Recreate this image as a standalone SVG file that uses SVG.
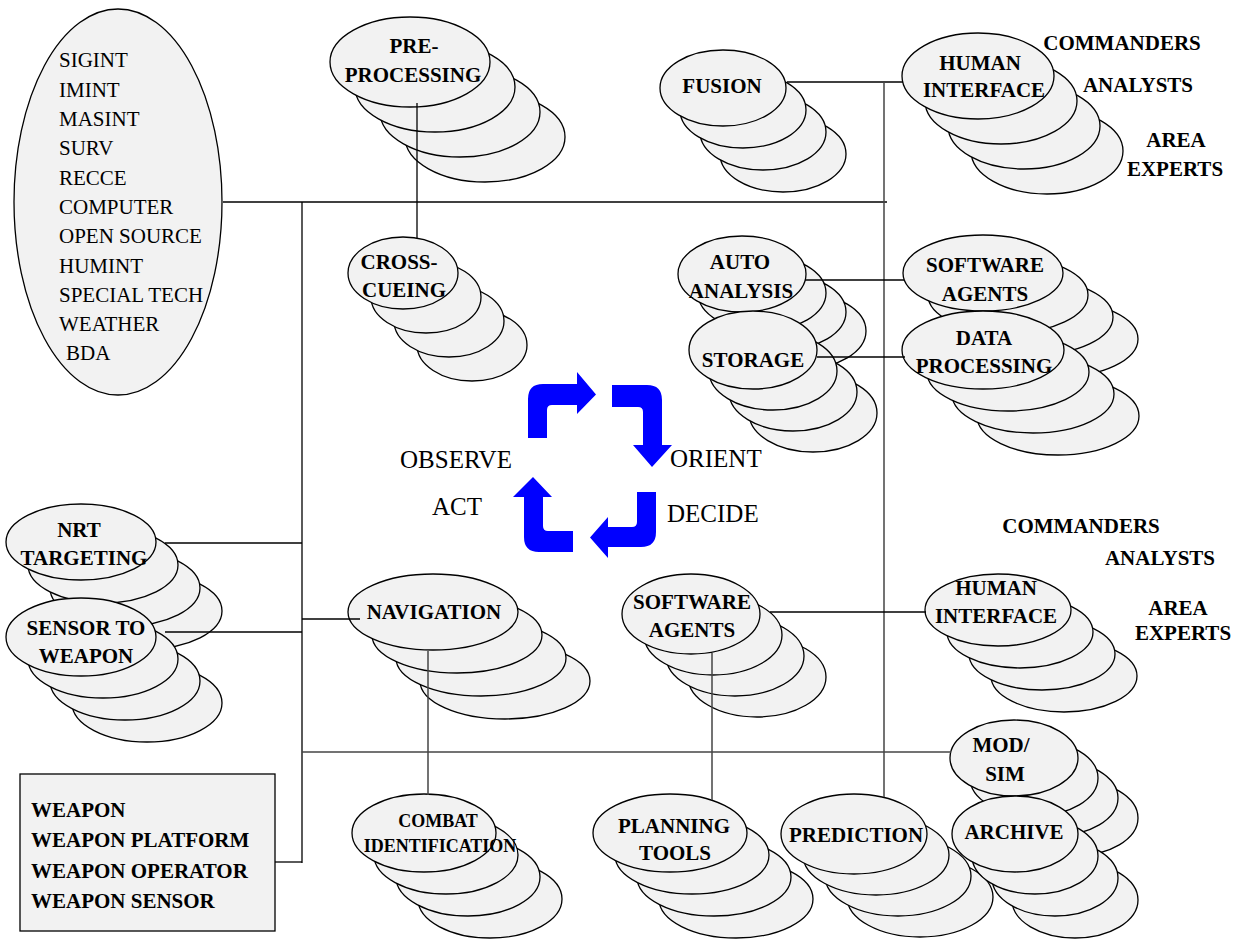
<svg xmlns="http://www.w3.org/2000/svg" width="1239" height="939" viewBox="0 0 1239 939">
<style>
.e{fill:#f2f2f2;stroke:#000;stroke-width:1.3}
.b{font-family:"Liberation Serif","Times New Roman",serif;font-weight:bold;font-size:21px;text-anchor:middle;fill:#000}
.bs{font-family:"Liberation Serif","Times New Roman",serif;font-weight:bold;font-size:18px;text-anchor:middle;fill:#000}
.bl{font-family:"Liberation Serif","Times New Roman",serif;font-weight:bold;font-size:21px;fill:#000}
.r{font-family:"Liberation Serif","Times New Roman",serif;font-size:21px;fill:#000}
.big{font-family:"Liberation Serif","Times New Roman",serif;font-size:25px;fill:#000}
.c{fill:none;stroke:#000;stroke-width:1.3}
.g{fill:none;stroke:#444;stroke-width:1.5}
.arrow{fill:#0000ff;stroke:none}
</style>
<rect width="1239" height="939" fill="#fff"/>
<g id="sources">
<ellipse class="e" cx="118" cy="202" rx="104" ry="193"/>
<text class="r" x="59" y="67">SIGINT</text>
<text class="r" x="59" y="97">IMINT</text>
<text class="r" x="59" y="126">MASINT</text>
<text class="r" x="59" y="155">SURV</text>
<text class="r" x="59" y="185">RECCE</text>
<text class="r" x="59" y="214">COMPUTER</text>
<text class="r" x="59" y="243">OPEN SOURCE</text>
<text class="r" x="59" y="273">HUMINT</text>
<text class="r" x="59" y="302">SPECIAL TECH</text>
<text class="r" x="59" y="331">WEATHER</text>
<text class="r" x="66" y="360">BDA</text>
</g>
<g id="preprocessing">
<ellipse class="e" cx="485" cy="137" rx="80" ry="45"/>
<ellipse class="e" cx="460" cy="112" rx="80" ry="45"/>
<ellipse class="e" cx="435" cy="87" rx="80" ry="45"/>
<ellipse class="e" cx="410" cy="62" rx="80" ry="45"/>
<text class="b" x="414" y="53">PRE-</text>
<text class="b" x="413" y="82">PROCESSING</text>
</g>
<g id="crosscueing">
<ellipse class="e" cx="472" cy="345" rx="55" ry="36"/>
<ellipse class="e" cx="449" cy="321" rx="55" ry="36"/>
<ellipse class="e" cx="426" cy="297" rx="55" ry="36"/>
<ellipse class="e" cx="403" cy="273" rx="55" ry="36"/>
<text class="b" x="399" y="269">CROSS-</text>
<text class="b" x="404" y="297">CUEING</text>
</g>
<g id="fusion">
<ellipse class="e" cx="783" cy="154" rx="63" ry="38"/>
<ellipse class="e" cx="763" cy="132" rx="63" ry="38"/>
<ellipse class="e" cx="743" cy="110" rx="63" ry="38"/>
<ellipse class="e" cx="723" cy="88" rx="63" ry="38"/>
<text class="b" x="722" y="93">FUSION</text>
</g>
<g id="human-interface-1">
<ellipse class="e" cx="1047" cy="151" rx="76" ry="43"/>
<ellipse class="e" cx="1024" cy="126" rx="76" ry="43"/>
<ellipse class="e" cx="1001" cy="101" rx="76" ry="43"/>
<ellipse class="e" cx="978" cy="76" rx="76" ry="43"/>
<text class="b" x="980" y="70">HUMAN</text>
<text class="b" x="984" y="97">INTERFACE</text>
<text class="b" x="1122" y="50">COMMANDERS</text>
<text class="b" x="1138" y="92">ANALYSTS</text>
<text class="b" x="1176" y="147">AREA</text>
<text class="b" x="1175" y="176">EXPERTS</text>
</g>
<g id="auto-analysis">
<ellipse class="e" cx="802" cy="331" rx="64" ry="38"/>
<ellipse class="e" cx="782" cy="312" rx="64" ry="38"/>
<ellipse class="e" cx="762" cy="293" rx="64" ry="38"/>
<ellipse class="e" cx="742" cy="274" rx="64" ry="38"/>
<text class="b" x="740" y="269">AUTO</text>
<text class="b" x="741" y="298">ANALYSIS</text>
</g>
<g id="storage">
<ellipse class="e" cx="813" cy="413" rx="64" ry="39"/>
<ellipse class="e" cx="793" cy="392" rx="64" ry="39"/>
<ellipse class="e" cx="773" cy="371" rx="64" ry="39"/>
<ellipse class="e" cx="753" cy="350" rx="64" ry="39"/>
<text class="b" x="753" y="367">STORAGE</text>
</g>
<g id="software-agents-1">
<ellipse class="e" cx="1058" cy="339" rx="80" ry="38"/>
<ellipse class="e" cx="1033" cy="317" rx="80" ry="38"/>
<ellipse class="e" cx="1008" cy="295" rx="80" ry="38"/>
<ellipse class="e" cx="983" cy="273" rx="80" ry="38"/>
<text class="b" x="985" y="272">SOFTWARE</text>
<text class="b" x="985" y="301">AGENTS</text>
</g>
<g id="data-processing">
<ellipse class="e" cx="1058" cy="416" rx="81" ry="39"/>
<ellipse class="e" cx="1033" cy="394" rx="81" ry="39"/>
<ellipse class="e" cx="1008" cy="372" rx="81" ry="39"/>
<ellipse class="e" cx="983" cy="350" rx="81" ry="39"/>
<text class="b" x="984" y="345">DATA</text>
<text class="b" x="984" y="373">PROCESSING</text>
</g>
<g id="nrt-targeting">
<ellipse class="e" cx="147" cy="611" rx="75" ry="38"/>
<ellipse class="e" cx="125" cy="588" rx="75" ry="38"/>
<ellipse class="e" cx="103" cy="565" rx="75" ry="38"/>
<ellipse class="e" cx="81" cy="542" rx="75" ry="38"/>
<text class="b" x="79" y="537">NRT</text>
<text class="b" x="84" y="565">TARGETING</text>
</g>
<g id="sensor-to-weapon">
<ellipse class="e" cx="147" cy="703" rx="75" ry="39"/>
<ellipse class="e" cx="125" cy="681" rx="75" ry="39"/>
<ellipse class="e" cx="103" cy="659" rx="75" ry="39"/>
<ellipse class="e" cx="81" cy="637" rx="75" ry="39"/>
<text class="b" x="86" y="635">SENSOR TO</text>
<text class="b" x="86" y="663">WEAPON</text>
</g>
<g id="navigation">
<ellipse class="e" cx="505" cy="681" rx="85" ry="38"/>
<ellipse class="e" cx="481" cy="658" rx="85" ry="38"/>
<ellipse class="e" cx="457" cy="635" rx="85" ry="38"/>
<ellipse class="e" cx="433" cy="612" rx="85" ry="38"/>
<text class="b" x="434" y="619">NAVIGATION</text>
</g>
<g id="software-agents-2">
<ellipse class="e" cx="757" cy="677" rx="69" ry="40"/>
<ellipse class="e" cx="735" cy="656" rx="69" ry="40"/>
<ellipse class="e" cx="713" cy="635" rx="69" ry="40"/>
<ellipse class="e" cx="691" cy="614" rx="69" ry="40"/>
<text class="b" x="692" y="609">SOFTWARE</text>
<text class="b" x="692" y="637">AGENTS</text>
</g>
<g id="human-interface-2">
<ellipse class="e" cx="1064" cy="676" rx="73" ry="36"/>
<ellipse class="e" cx="1042" cy="654" rx="73" ry="36"/>
<ellipse class="e" cx="1020" cy="632" rx="73" ry="36"/>
<ellipse class="e" cx="998" cy="610" rx="73" ry="36"/>
<text class="b" x="996" y="595">HUMAN</text>
<text class="b" x="996" y="623">INTERFACE</text>
<text class="b" x="1081" y="533">COMMANDERS</text>
<text class="b" x="1160" y="565">ANALYSTS</text>
<text class="b" x="1178" y="615">AREA</text>
<text class="b" x="1183" y="640">EXPERTS</text>
</g>
<g id="combat-identification">
<ellipse class="e" cx="490" cy="899" rx="72" ry="39"/>
<ellipse class="e" cx="468" cy="877" rx="72" ry="39"/>
<ellipse class="e" cx="446" cy="855" rx="72" ry="39"/>
<ellipse class="e" cx="424" cy="833" rx="72" ry="39"/>
<text class="bs" x="438" y="827">COMBAT</text>
<text class="bs" x="440" y="852">IDENTIFICATION</text>
</g>
<g id="planning-tools">
<ellipse class="e" cx="736" cy="899" rx="77" ry="39"/>
<ellipse class="e" cx="714" cy="877" rx="77" ry="39"/>
<ellipse class="e" cx="692" cy="855" rx="77" ry="39"/>
<ellipse class="e" cx="670" cy="833" rx="77" ry="39"/>
<text class="b" x="674" y="833">PLANNING</text>
<text class="b" x="675" y="860">TOOLS</text>
</g>
<g id="prediction">
<ellipse class="e" cx="920" cy="897" rx="73" ry="40"/>
<ellipse class="e" cx="898" cy="876" rx="73" ry="40"/>
<ellipse class="e" cx="876" cy="855" rx="73" ry="40"/>
<ellipse class="e" cx="854" cy="834" rx="73" ry="40"/>
<text class="b" x="856" y="842">PREDICTION</text>
</g>
<g id="mod-sim">
<ellipse class="e" cx="1074" cy="818" rx="64" ry="38"/>
<ellipse class="e" cx="1054" cy="798" rx="64" ry="38"/>
<ellipse class="e" cx="1034" cy="778" rx="64" ry="38"/>
<ellipse class="e" cx="1014" cy="758" rx="64" ry="38"/>
<text class="b" x="1001" y="752">MOD/</text>
<text class="b" x="1005" y="781">SIM</text>
</g>
<g id="archive">
<ellipse class="e" cx="1075" cy="900" rx="63" ry="38"/>
<ellipse class="e" cx="1055" cy="878" rx="63" ry="38"/>
<ellipse class="e" cx="1035" cy="856" rx="63" ry="38"/>
<ellipse class="e" cx="1015" cy="834" rx="63" ry="38"/>
<text class="b" x="1014" y="839">ARCHIVE</text>
</g>
<g id="weapon">
<rect x="20" y="774" width="255" height="157" fill="#f2f2f2" stroke="#000" stroke-width="1.3"/>
<text class="bl" x="31" y="817">WEAPON</text>
<text class="bl" x="31" y="847">WEAPON PLATFORM</text>
<text class="bl" x="31" y="878">WEAPON OPERATOR</text>
<text class="bl" x="31" y="908">WEAPON SENSOR</text>
</g>
<g id="ooda">
<path class="arrow" d="M528,438 V399 Q528,384 543,384 H577 V372 L596,394.5 L577,414 V405 H552 Q547,405 547,410 V438 Z"/>
<path class="arrow" d="M612,385 H647 Q662,385 662,400 V445 H672 L652,467 L633,445 H643 V412 Q643,407 638,407 H612 Z"/>
<path class="arrow" d="M656,492 V532 Q656,547 641,547 H608 V558 L590,537.5 L608,517 V527 H632 Q637,527 637,522 V492 Z"/>
<path class="arrow" d="M573,552 H539 Q524,552 524,537 V497 H513 L533,477 L552,497 H543 V526 Q543,531 548,531 H573 Z"/>
<text class="big" x="400" y="468">OBSERVE</text>
<text class="big" x="670" y="467">ORIENT</text>
<text class="big" x="667" y="522">DECIDE</text>
<text class="big" x="432" y="515">ACT</text>
</g>
<g id="connectors">
<path class="c" d="M223,202 H887"/>
<path class="c" d="M302,202 V863"/>
<path class="c" d="M417,103 V238"/>
<path class="c" d="M787,82 H903"/>
<path class="g" d="M884,82 V797"/>
<path class="c" d="M805,280 H904"/>
<path class="c" d="M817,357 H905"/>
<path class="c" d="M165,543 H302"/>
<path class="c" d="M165,632 H302"/>
<path class="c" d="M302,619 H360"/>
<path class="g" d="M428,651 V795"/>
<path class="g" d="M712,653 V800"/>
<path class="c" d="M770,612 H926"/>
<path class="g" d="M302,752 H951"/>
<path class="c" d="M275,862 H302"/>
</g>
</svg>
